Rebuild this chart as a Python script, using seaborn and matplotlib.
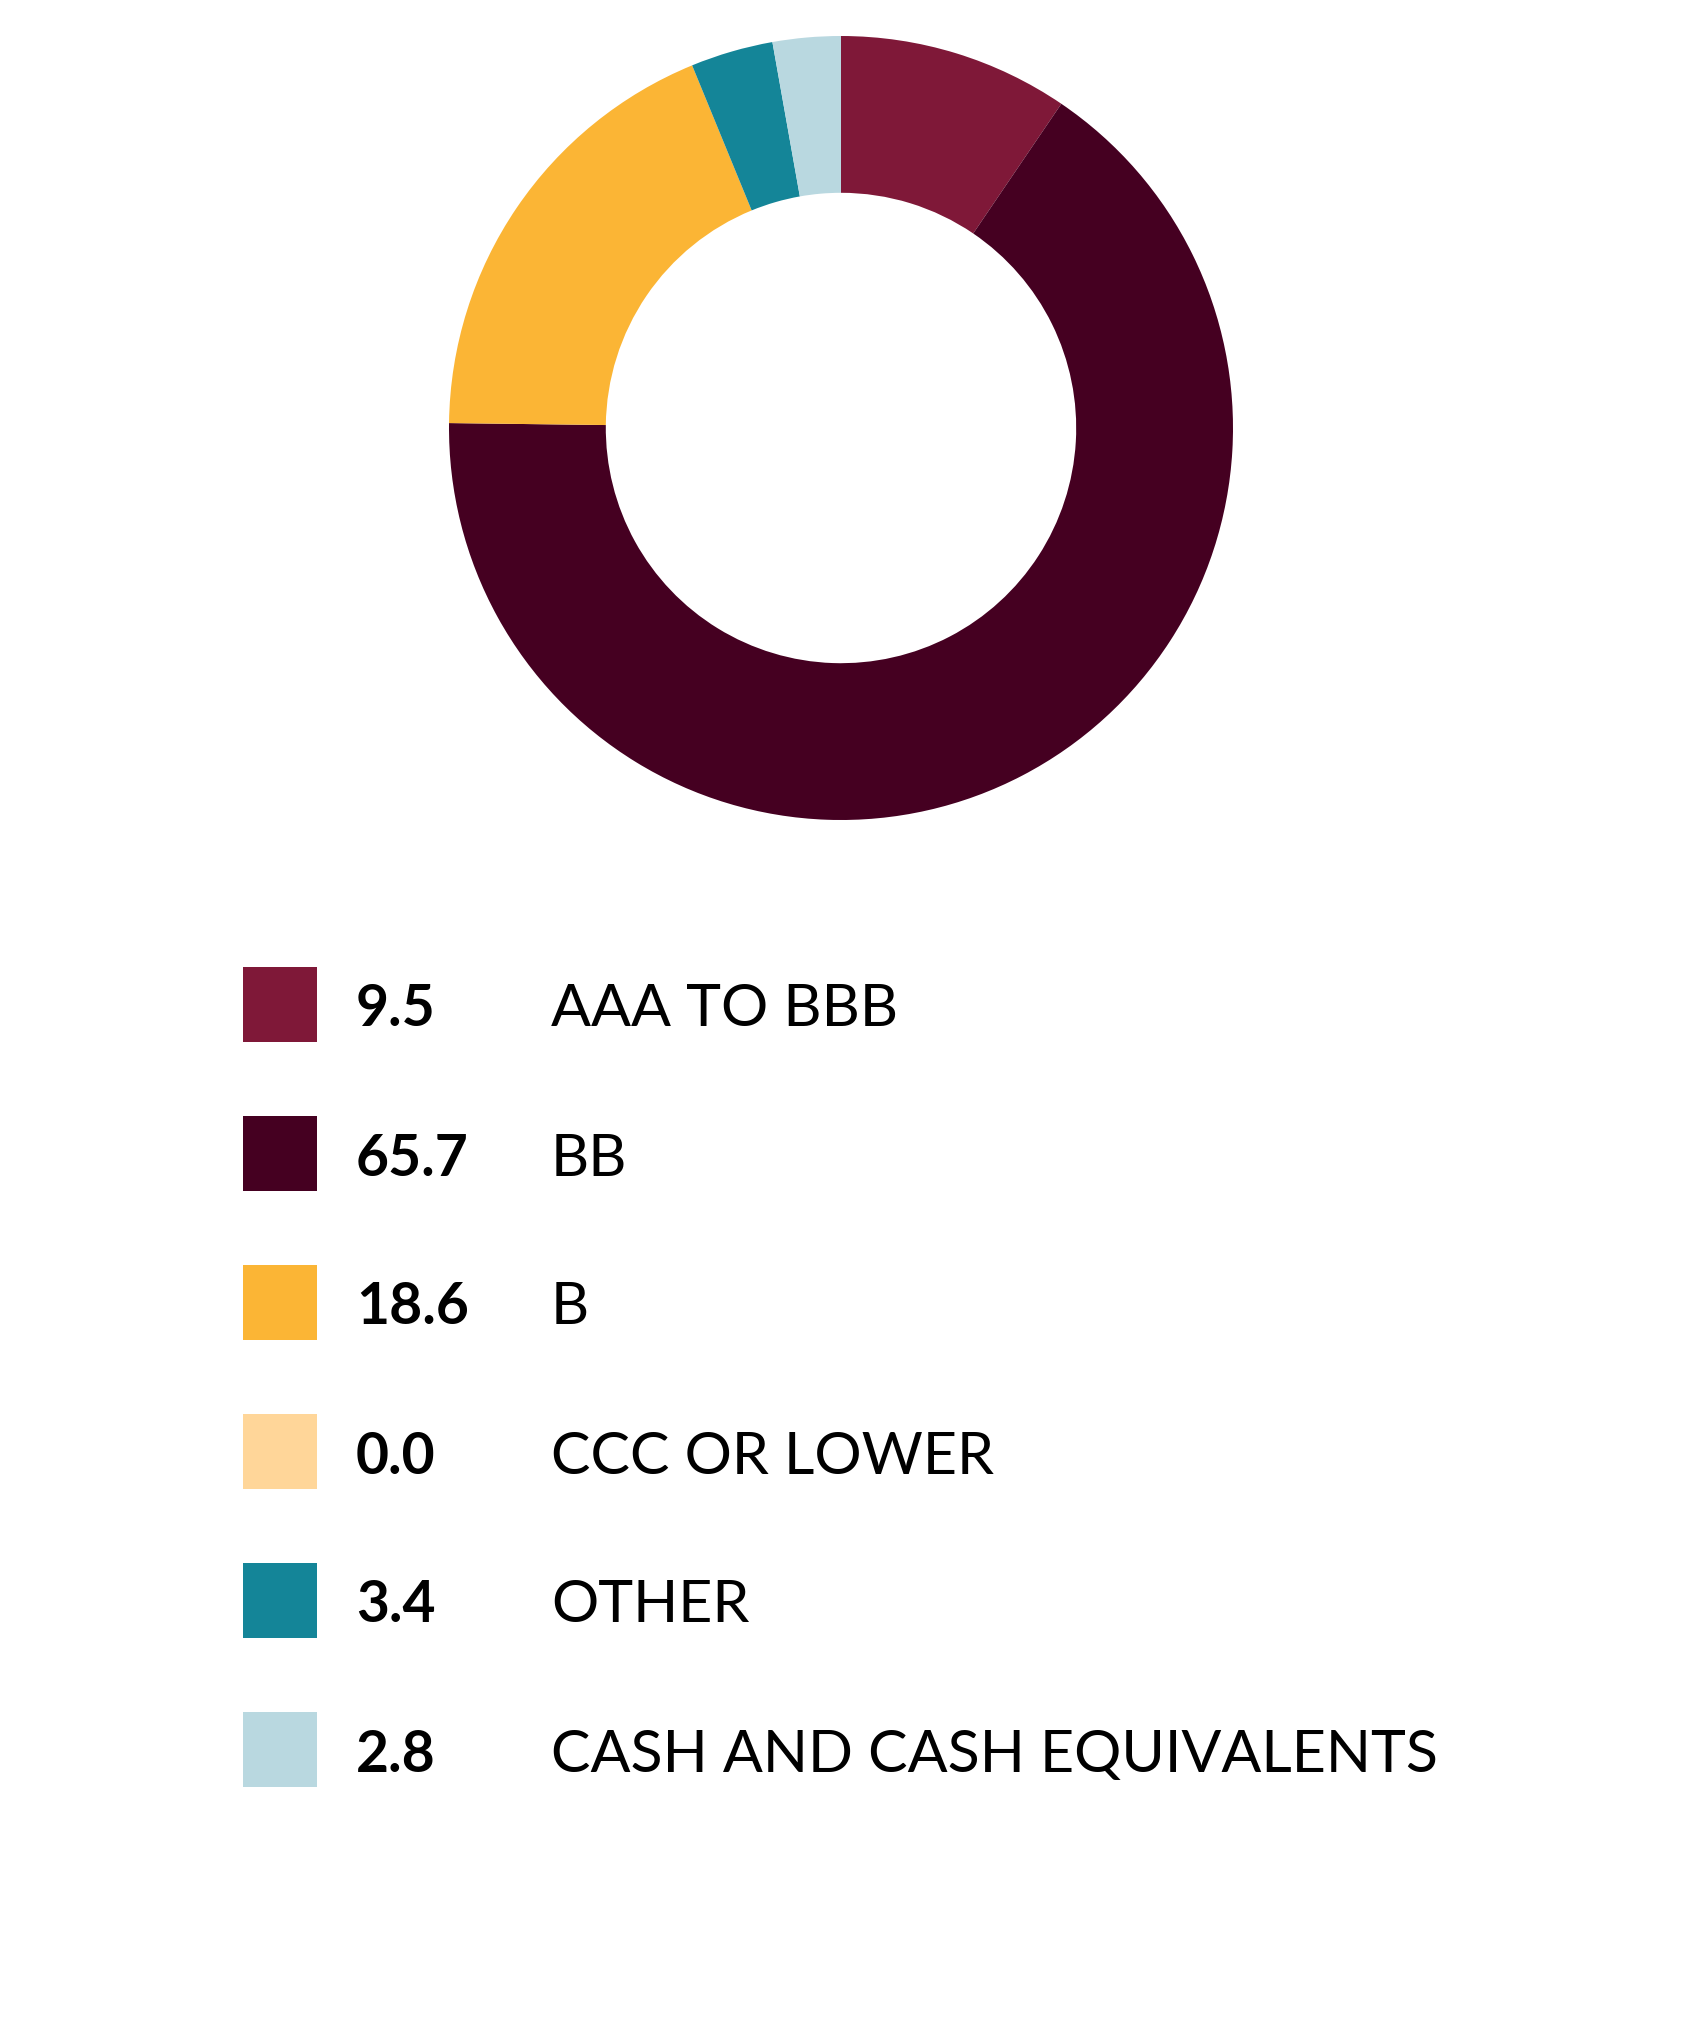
import matplotlib
matplotlib.use("Agg")
import matplotlib.pyplot as plt
import seaborn as sns

categories = ["AAA TO BBB", "BB", "B", "CCC OR LOWER", "OTHER", "CASH AND CASH EQUIVALENTS"]
values = [9.5, 65.7, 18.6, 0.0, 3.4, 2.8]
colors = ["#7F1838", "#450021", "#FBB535", "#FFD699", "#148598", "#B9D8E0"]

sns.set_theme(style="white")
plt.rcParams["font.family"] = ["Lato", "DejaVu Sans"]

W, H = 1687, 2039
fig = plt.figure(figsize=(W / 100, H / 100), dpi=100)

# donut
cx, cy, r = 841, 428, 392
ax = fig.add_axes([(cx - r) / W, 1 - (cy + r) / H, 2 * r / W, 2 * r / H])
ax.pie(values, colors=colors, startangle=90, counterclock=False,
       wedgeprops=dict(width=0.4, linewidth=0))
ax.set_xlim(-1, 1)
ax.set_ylim(-1, 1)
ax.axis("off")

# legend
row_h = 149
top = 1004 - row_h / 2
n = len(categories)
lg = fig.add_axes([0, 1 - (top + n * row_h) / H, 1, n * row_h / H])
lg.set_xlim(0, W)
lg.set_ylim(n - 0.5, -0.5)
lg.axis("off")
rows = list(range(n))
lg.barh(rows, [74] * n, left=243, height=75 / row_h, color=colors, linewidth=0)
dy = 6 / row_h
for i, (v, c) in enumerate(zip(values, categories)):
    lg.text(356, i + dy, f"{v:.1f}", fontsize=41, fontweight="bold", va="center", color="black")
    lg.text(551, i + dy, c, fontsize=42.6, va="center", color="black")

fig.savefig("out.png", dpi=100, facecolor="white")
